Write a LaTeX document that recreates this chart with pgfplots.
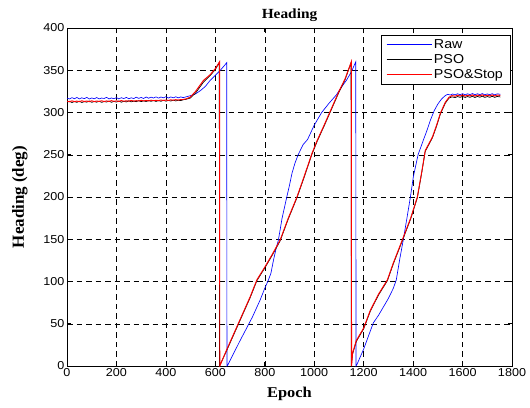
\documentclass[border=0pt]{standalone}
\usepackage{fontspec}
\setmainfont{Liberation Serif}[FakeStretch=1.1]
\setsansfont{Liberation Sans}[FakeStretch=1.1]
\newfontfamily\ylabfont{Liberation Serif}
\usepackage{pgfplots}
\usepackage{pgfplotstable}
\pgfplotsset{compat=1.18}

\pgfplotstableread{
x y
0 317
10 316
20 317.6
30 316.3
40 317.8
50 316.1
60 317.4
70 316.4
80 317.9
90 316
100 317.2
110 316.2
120 317.7
130 316.1
140 317.1
150 316.6
160 317.9
170 316.1
180 317.2
190 316.3
200 317.6
210 316.1
220 317.5
230 316.5
240 317.9
250 316.3
260 317.4
270 316.5
280 318.1
290 316.7
300 317.8
310 316.6
320 318.3
330 316.9
340 318.2
350 317.1
360 318.5
370 317
380 318.3
390 317.3
400 318.7
410 317.1
420 318.4
430 317.4
440 318.6
450 317.3
460 318.5
470 317.6
480 318.4
500 320
520 322
540 326
560 331
579 338
600 344
620 350
635 355
646 359
647 0
650 1
700 30
750 58
781 78
800 92
815 102
825 110
835 125
845 138
855 149
870 175
889 200
900 214
910 228
922 240
935 250
955 262
973 268
1000 285
1030 300
1060 311
1090 321
1110 330
1130 338
1150 348
1168 360
1169 0
1173 2
1200 20
1220 36
1239 51
1260 60
1280 70
1300 80
1320 92
1332 102
1345 125
1360 149
1375 175
1389 200
1401 224
1420 250
1441 267
1455 278
1470 291
1485 302
1500 310
1515 316
1530 320
1540 321.5
1550 320.7
1560 321.9
1570 320.9
1580 322.2
1590 321
1600 322.3
1610 320.9
1620 322.1
1630 321.2
1640 322.4
1650 321
1660 322.2
1670 321.1
1680 322.4
1690 320.9
1700 322
1710 321.1
1720 322.3
1730 320.9
1740 322.1
1753 321.5
}\rawdata

\pgfplotstableread{
x y
0 312.3
10 313.3
20 311.8
30 313
40 312
50 313.4
60 311.8
70 312.9
80 312.2
90 313.6
100 312
110 313.1
120 312.2
130 313.4
140 312
150 313
160 312.4
170 313.5
180 312.1
190 313.2
200 312.3
210 313.6
220 312.2
230 313.3
240 312.5
250 313.8
260 312.6
270 313.5
280 312.8
290 314
300 312.9
310 313.8
320 313
330 314.1
340 313.2
350 314.2
360 313.1
370 314.1
380 313.3
390 314.4
400 313.4
410 314.3
420 313.6
430 314.6
440 313.7
450 314.5
460 314.1
470 315.1
480 315.5
498 317
520 323
552 336
580 344
600 351
616 359
617 0
650 21
700 54
741 81
768 101
800 116
830 131
862 148
895 174
930 199
960 224
990 250
1012 266
1040 284
1070 304
1100 324
1125 339
1149 359
1150 0
1155 14
1170 29
1200 44
1227 65
1260 84
1296 101
1320 121
1356 148
1390 174
1417 199
1435 229
1449 254
1478 270
1495 284
1510 298
1530 311
1545 317
1557 318.5
1570 317.7
1580 318.9
1590 317.9
1600 319.1
1610 317.8
1620 318.9
1630 318
1640 319.2
1650 317.8
1660 319
1670 318.1
1680 319.3
1690 317.9
1700 318.9
1710 318
1720 319.2
1730 317.9
1740 319
1753 318.4
}\psodata

\pgfplotstableread{
x y
0 313.4
10 312.7
20 313.8
30 312.9
40 313.5
50 312.8
60 313.9
70 313
80 313.6
90 312.8
100 313.9
110 312.9
120 313.6
130 313.1
140 313.9
150 313
160 313.7
170 313.1
180 314
190 313.2
200 313.8
210 313.1
220 314.1
230 313.3
240 313.9
250 313.4
260 314.2
270 313.5
280 314
290 313.6
300 314.4
310 313.7
320 314.3
330 313.8
340 314.6
350 313.9
360 314.5
370 314.1
380 314.8
390 314.2
400 314.8
410 314.3
420 315
430 314.5
440 315.2
450 314.7
460 315.3
470 315.4
480 316
498 318
520 325
552 338
580 345
600 352
617 360
618 0
650 22
700 55
741 82
768 102
800 117
830 132
862 149
895 175
930 200
960 225
990 251
1012 267
1040 285
1070 305
1100 325
1125 340
1150 360
1151 0
1155 15
1170 30
1200 45
1227 66
1260 85
1296 102
1320 122
1356 149
1390 175
1417 200
1435 230
1449 255
1478 271
1495 285
1510 299
1530 312
1545 318
1557 320
1570 319.3
1580 320.5
1590 319.6
1600 320.7
1610 319.4
1620 320.4
1630 319.7
1640 320.8
1650 319.5
1660 320.6
1670 319.8
1680 320.9
1690 319.6
1700 320.5
1710 319.7
1720 320.8
1730 319.6
1740 320.6
1753 320.2
}\stopdata

\begin{document}
\begin{tikzpicture}[x=1bp,y=1bp]
\path[use as bounding box, fill=white] (0,0) rectangle (530,407);
\begin{axis}[
  at={(67bp,41bp)}, anchor=south west,
  width=445bp, height=338bp, scale only axis,
  xmin=0, xmax=1800, ymin=0, ymax=400,
  xtick={0,200,...,1800}, ytick={0,50,...,400},
  grid=major,
  major grid style={black, line width=0.5pt, dash pattern=on 5.5bp off 4bp},
  axis line style={black, line width=0.7pt},
  tick align=inside, tick pos=both,
  major tick length=4bp,
  tick style={black, line width=0.6pt},
  /pgf/number format/assume math mode=true,
  /pgf/number format/set thousands separator={},
  tick label style={font=\sffamily\fontsize{11.5}{13}\selectfont},
  xticklabel style={yshift=1bp},
  yticklabel style={xshift=1bp},
  xlabel={\textbf{Epoch}},
  ylabel={\ylabfont\textbf{Heading (deg)}},
  xlabel style={font=\fontsize{15}{16}\selectfont, yshift=-4bp},
  ylabel style={font=\fontsize{17}{18}\selectfont, yshift=9bp},
  title={\textbf{Heading}},
  title style={font=\fontsize{14}{15}\selectfont, yshift=-3bp},
  legend style={at={(0.996,0.98)}, anchor=north east, draw=black, line width=0.7pt,
    font=\sffamily\fontsize{13}{14}\selectfont, row sep=0.5bp,
    inner xsep=5bp, inner ysep=2.5bp, fill=white},
  legend cell align=left,
  legend image code/.code={\draw[#1, line width=0.8pt] (0bp,0bp) -- (45bp,0bp);},
]
\addplot[blue, line width=0.65pt] table[x=x,y=y] {\rawdata};
\addlegendentry{Raw}
\addplot[black, line width=0.7pt] table[x=x,y=y] {\psodata};
\addlegendentry{PSO}
\addplot[red, line width=0.95pt] table[x=x,y=y] {\stopdata};
\addlegendentry{PSO\&Stop}
\end{axis}
\end{tikzpicture}
\end{document}
